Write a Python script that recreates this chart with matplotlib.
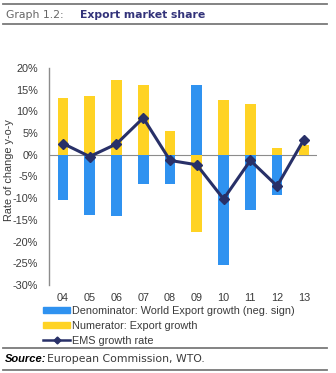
import matplotlib.pyplot as plt
from matplotlib.lines import Line2D

plt.rcParams['font.family'] = ['Liberation Sans', 'DejaVu Sans']

YEARS = ['04', '05', '06', '07', '08', '09', '10', '11', '12', '13']
NUMERATOR = [13.2, 13.5, 17.2, 16.0, 5.5, -17.9, 12.7, 11.6, 1.5, 2.2]
DENOMINATOR = [-10.4, -13.8, -14.2, -6.8, -6.8, 16.0, -25.4, -12.8, -9.3, 0.0]
EMS = [2.6, -0.4, 2.5, 8.5, -1.3, -2.3, -10.2, -1.3, -7.2, 3.5]

BLUE = '#2f92f0'
YELLOW = '#ffd324'
NAVY = '#283068'
GREY = '#8c8c8c'
TEXT = '#3a3a3a'

W, H = 336, 373
fig = plt.figure(figsize=(W / 100, H / 100), dpi=100)

ax = fig.add_axes([49 / W, 1 - 285 / H, (317 - 49) / W, (285 - 68) / H])
x = list(range(len(YEARS)))
ax.bar(x, NUMERATOR, width=0.4, color=YELLOW, zorder=2)
ax.bar(x, DENOMINATOR, width=0.4, color=BLUE, zorder=2)
ax.axhline(0, color=GREY, lw=0.8, zorder=1)
ax.plot(x, EMS, color=NAVY, lw=2.2, marker='D', ms=5.5, zorder=3)

ax.set_xlim(-0.52, 9.49)
ax.set_ylim(-30, 20)
ax.set_yticks(range(-30, 21, 5))
ax.set_yticklabels([f'{v}%' for v in range(-30, 21, 5)])
ax.set_xticks(x)
ax.set_xticklabels(YEARS)
ax.tick_params(length=0, labelsize=7.8, colors=TEXT, pad=6)
ax.tick_params(axis='y', pad=8)
for s in ['top', 'right', 'bottom']:
    ax.spines[s].set_visible(False)
ax.spines['left'].set_color(GREY)
ax.spines['left'].set_linewidth(1.0)
fig.text(9 / W, 1 - 170 / H, 'Rate of change y-o-y', rotation=90,
         ha='center', va='center', fontsize=7.8, color=TEXT)

handles = [
    plt.Rectangle((0, 0), 1, 1, color=BLUE),
    plt.Rectangle((0, 0), 1, 1, color=YELLOW),
    Line2D([], [], color=NAVY, lw=1.8, marker='D', ms=3.5),
]
labels = ['Denominator: World Export growth (neg. sign)',
          'Numerator: Export growth',
          'EMS growth rate']
fig.legend(handles, labels, loc='upper left', bbox_to_anchor=(43 / W, 1 - 306 / H),
           frameon=False, fontsize=7.8, handlelength=2.5, handleheight=0.45,
           handletextpad=0.2, labelspacing=0.45, borderpad=0, borderaxespad=0,
           labelcolor=TEXT)

# header and footer rules
for y in (4, 24, 348, 370):
    fig.add_artist(Line2D([3 / W, 327 / W], [1 - y / H, 1 - y / H],
                          color='#7a7a7a', lw=1.3))
fig.text(6 / W, 1 - 15 / H, 'Graph 1.2:', fontsize=7.8, color='#666666', va='center',
         family='DejaVu Sans')
fig.text(80 / W, 1 - 15 / H, 'Export market share', fontsize=7.8, color='#33337a',
         weight='bold', va='center', family='DejaVu Sans')
fig.text(5 / W, 1 - 359 / H, 'Source:', fontsize=8, weight='bold', style='italic',
         va='center')
fig.text(47 / W, 1 - 359 / H, 'European Commission, WTO.', fontsize=7.8, color=TEXT,
         va='center', family='DejaVu Sans')

fig.savefig('out.png', dpi=100)
